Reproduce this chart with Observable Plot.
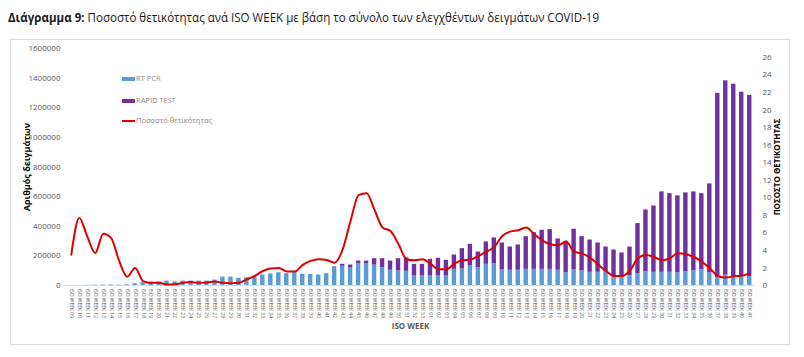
<!DOCTYPE html>
<html>
<head>
<meta charset="utf-8">
<script src="https://cdn.jsdelivr.net/npm/d3@7"></script>
<script src="https://cdn.jsdelivr.net/npm/@observablehq/plot@0.6"></script>
<style>
  html, body { margin: 0; padding: 0; background: #fff; }
  #wrap { position: relative; width: 804px; height: 357px; overflow: hidden; font-family: "Open Sans", sans-serif; }
  #title { position: absolute; left: 8px; top: 8px; font-size: 13px; color: #1a1a1a; white-space: nowrap; transform: scaleX(0.888); transform-origin: 0 0; }
  #title b { font-weight: bold; }
  #frame { position: absolute; left: 10px; top: 39px; width: 780px; height: 306px; border: 1px solid #d9d9d9; box-sizing: border-box; }
  #chart { position: absolute; left: 0; top: 39px; }
  .leg { position: absolute; font-size: 7.5px; color: #8a8a8a; white-space: nowrap; font-family: "Open Sans", sans-serif; }
  .sw { display: inline-block; vertical-align: middle; margin-right: 1px; }
</style>
</head>
<body>
<div id="wrap">
  <div id="title"><b>Διάγραμμα 9:</b> Ποσοστό θετικότητας ανά ISO WEEK με βάση το σύνολο των ελεγχθέντων δειγμάτων COVID-19</div>
  <div id="frame"></div>
  <div id="chart"></div>
  <div class="leg" style="left:122px; top:73px;"><span class="sw" style="width:13px;height:4px;background:#5b9bd5;"></span>RT PCR</div>
  <div class="leg" style="left:122px; top:95px;"><span class="sw" style="width:13px;height:4px;background:#7030a0;"></span>RAPID TEST</div>
  <div class="leg" style="left:122px; top:115px;"><span class="sw" style="width:13px;height:2px;background:#e00000;"></span>Ποσοστό θετικότητας</div>
</div>
<script>
// ISO weeks: 2020 week 09 .. 2020 week 53, 2021 week 01 .. 2021 week 41
const weeks2020 = d3.range(9, 54).map(w => "ISO WEEK " + String(w).padStart(2, "0"));
const weeks2021 = d3.range(1, 42).map(w => "ISO WEEK " + String(w).padStart(2, "0") + " ");
const weeks = weeks2020.concat(weeks2021);

// RT PCR samples per week
const rtpcr = [
  0, 0, 2000, 3000, 3000, 4000, 3000, 5000, 12000, 19000,
  19000, 24000, 30000, 24000, 30000, 30000, 30000, 30000, 37000, 57000,
  57000, 49000, 53000, 64000, 71000, 78000, 86000, 80000, 93000, 76000,
  74000, 71000, 80000, 118000, 130000, 120000, 148000, 148000, 138000, 120000,
  103000, 98000, 96000, 64000, 64000, 64000, 64000, 64000, 109000, 112000,
  132000, 120000, 143000, 147000, 105000, 103000, 103000, 109000, 109000, 109000,
  109000, 103000, 86000, 105000, 98000, 89000, 89000, 90000, 62000, 53000,
  65000, 80000, 93000, 89000, 89000, 89000, 85000, 93000, 100000, 107000,
  85000, 53000, 70000, 60000, 60000, 60000
];
// Total samples per week (RT PCR + RAPID TEST)
const totals = [
  0, 0, 2000, 3000, 3000, 4000, 3000, 5000, 12000, 19000,
  19000, 24000, 30000, 24000, 30000, 30000, 30000, 30000, 37000, 57000,
  57000, 49000, 53000, 64000, 71000, 78000, 86000, 80000, 93000, 76000,
  74000, 71000, 80000, 125000, 143000, 138000, 165000, 165000, 181000, 181000,
  165000, 181000, 186000, 143000, 143000, 177000, 184000, 170000, 206000, 249000,
  278000, 226000, 294000, 321000, 287000, 260000, 274000, 330000, 357000, 373000,
  377000, 314000, 298000, 380000, 330000, 307000, 287000, 260000, 240000, 220000,
  260000, 418000, 510000, 537000, 632000, 620000, 605000, 625000, 632000, 620000,
  686000, 1297000, 1382000, 1359000, 1305000, 1283000
];
const rapid = totals.map((t, i) => Math.max(0, t - rtpcr[i]));

// Positivity rate (%)
const positivity = [
  3.5, 7.7, 5.6, 3.7, 5.9, 5.4, 2.8, 1.0, 2.0, 0.5,
  0.3, 0.3, 0.1, 0.15, 0.3, 0.4, 0.3, 0.35, 0.45, 0.3,
  0.25, 0.3, 0.7, 1.1, 1.65, 1.95, 2.0, 1.6, 1.6, 2.35,
  2.8, 3.0, 2.9, 2.6, 4.1, 7.4, 10.3, 10.5, 8.6, 6.6,
  6.2, 4.7, 3.0, 2.87, 2.98, 2.5, 1.84, 1.84, 2.5, 2.87,
  2.95, 3.36, 3.86, 4.39, 5.64, 6.14, 6.3, 6.6, 5.84, 5.15,
  4.7, 4.6, 5.0, 3.86, 3.63, 3.17, 2.41, 1.65, 1.08, 1.08,
  1.73, 3.1, 3.48, 3.25, 2.87, 3.1, 3.67, 3.55, 3.25, 2.72,
  1.96, 1.08, 0.9, 1.05, 1.12, 1.35
];

const leftTicks = d3.range(0, 1600001, 200000);
const rightTicks = d3.range(0, 27, 2);
const series = ["RT PCR", "RAPID TEST"];

const table = [];
weeks.forEach((w, i) => {
  table.push({week: w, type: series[0], value: rtpcr[i]});
  table.push({week: w, type: series[1], value: rapid[i]});
});
const posTable = weeks.map((w, i) => ({week: w, p: positivity[i]}));
const K = 1600000 / 27;

const chart = Plot.plot({
  width: 804,
  height: 306,
  marginLeft: 65,
  marginRight: 49,
  marginTop: 9,
  marginBottom: 60,
  style: {fontFamily: "'Open Sans', sans-serif", background: "transparent"},
  x: {domain: weeks, padding: 0.45, label: null},
  y: {domain: [0, 1600000], label: null},
  color: {domain: series, range: ["#5b9bd5", "#7030a0"]},
  marks: [
    Plot.ruleY([0], {stroke: "#d9d9d9"}),
    Plot.barY(table, {x: "week", y: "value", fill: "type"}),
    Plot.line(posTable, {x: "week", y: d => d.p * K, stroke: "#e00000", strokeWidth: 2, curve: "monotone-x"}),
    Plot.axisY(leftTicks, {anchor: "left", tickSize: 0, tickPadding: 5, fontSize: 8, fill: "#595959", label: null, tickFormat: d => String(d)}),
    Plot.axisY(rightTicks.map(v => v * K), {anchor: "right", tickSize: 0, tickPadding: 7, fontSize: 8, fill: "#595959", label: null, tickFormat: d => String(Math.round(d / K))}),
    Plot.axisX({tickRotate: 90, tickSize: 0, tickPadding: 3, fontSize: 5, fill: "#595959", label: null, tickFormat: d => d.trim()}),
    Plot.text(["Αριθμός δειγμάτων"], {frameAnchor: "left", textAnchor: "middle", dx: -38, rotate: -90, fontSize: 9, fontWeight: "bold", fill: "#000"}),
    Plot.text(["ΠΟΣΟΣΤΟ ΘΕΤΙΚΟΤΗΤΑΣ"], {frameAnchor: "right", textAnchor: "middle", dx: 22, rotate: -90, fontSize: 8, fontWeight: "bold", fill: "#000"}),
    Plot.text(["ISO WEEK"], {frameAnchor: "bottom", dy: 43, fontSize: 8, fontWeight: "bold", fill: "#595959"})
  ]
});
document.getElementById("chart").appendChild(chart);
</script>
</body>
</html>
